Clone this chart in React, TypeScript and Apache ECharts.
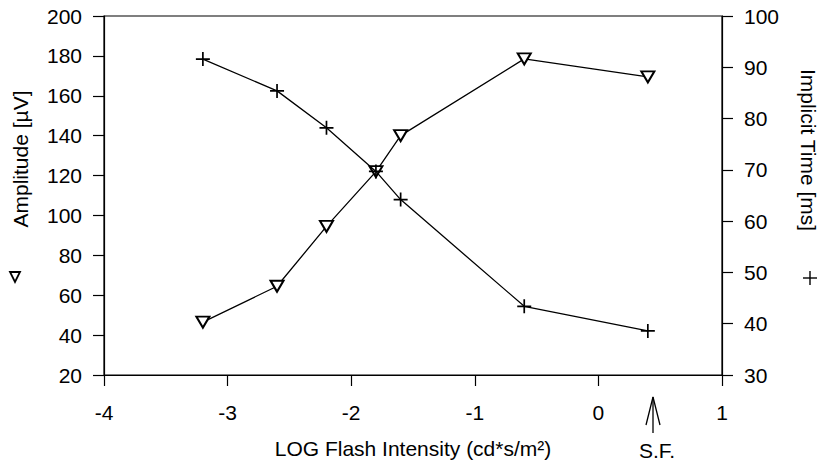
import React, { useEffect, useRef } from "react";
import * as echarts from "echarts";

const flashIntensity = [-3.2, -2.6, -2.2, -1.8, -1.6, -0.6, 0.4];
const amplitude = [46.5, 64.5, 94.5, 122, 140, 178.5, 169.5];
const implicitTime = [91.6, 85.4, 78.2, 69.7, 64.2, 43.4, 38.6];

const FONT = "'Liberation Sans', Arial, sans-serif";
const FS = 21;

export default function App() {
  const ref = useRef<HTMLDivElement>(null);
  useEffect(() => {
    if (!ref.current) return;
    const chart = echarts.init(ref.current, undefined, { renderer: "svg" });
    const axisCommon = {
      axisLine: { show: true, onZero: false, lineStyle: { color: "#000", width: 1.2 } },
      axisTick: { show: true, inside: false, length: 11, lineStyle: { color: "#000", width: 1.2 } },
      axisLabel: { color: "#000", fontSize: FS, fontFamily: FONT, margin: 22 },
      splitLine: { show: false },
    };
    chart.setOption({
      animation: false,
      backgroundColor: "#fff",
      grid: {
        left: 104,
        right: 97,
        top: 16,
        bottom: 88,
        show: true,
        borderColor: "#000",
        borderWidth: 1.2,
        backgroundColor: "transparent",
      },
      xAxis: {
        type: "value",
        min: -4,
        max: 1,
        interval: 1,
        ...axisCommon,
        axisLabel: { ...axisCommon.axisLabel, margin: 27 },
        name: "LOG Flash Intensity (cd*s/m²)",
        nameLocation: "middle",
        nameGap: 63,
        nameTextStyle: { color: "#000", fontSize: FS, fontFamily: FONT },
      },
      yAxis: [
        {
          type: "value",
          min: 20,
          max: 200,
          interval: 20,
          position: "left",
          ...axisCommon,
        },
        {
          type: "value",
          min: 30,
          max: 100,
          interval: 10,
          position: "right",
          ...axisCommon,
        },
      ],
      series: [
        {
          type: "line",
          yAxisIndex: 0,
          data: flashIntensity.map((x, i) => [x, amplitude[i]]),
          lineStyle: { color: "#000", width: 1.3 },
          symbol: "triangle",
          symbolRotate: 180,
          symbolSize: [13, 11],
          itemStyle: { color: "#fff", borderColor: "#000", borderWidth: 2 },
          z: 3,
        },
        {
          type: "line",
          yAxisIndex: 1,
          data: flashIntensity.map((x, i) => [x, implicitTime[i]]),
          lineStyle: { color: "#000", width: 1.3 },
          symbol: "path://M0,7H14M7,0V14",
          symbolSize: 14,
          symbolKeepAspect: true,
          itemStyle: { color: "none", borderColor: "#000", borderWidth: 1.7 },
          z: 4,
        },
      ],
      graphic: [
        {
          type: "text",
          x: 20,
          y: 159,
          rotation: Math.PI / 2,
          style: {
            text: "Amplitude [µV]",
            fontSize: FS,
            fontFamily: FONT,
            fill: "#000",
            align: "center",
            verticalAlign: "middle",
          },
        },
        {
          type: "polygon",
          shape: { points: [[10, 272], [20, 272], [15, 282]] },
          style: { fill: "none", stroke: "#000", lineWidth: 1.8 },
        },
        {
          type: "text",
          x: 808,
          y: 150,
          rotation: -Math.PI / 2,
          style: {
            text: "Implicit Time [ms]",
            fontSize: FS,
            fontFamily: FONT,
            fill: "#000",
            align: "center",
            verticalAlign: "middle",
          },
        },
        {
          type: "line",
          shape: { x1: 803, y1: 278, x2: 817, y2: 278 },
          style: { stroke: "#000", lineWidth: 1.4 },
        },
        {
          type: "line",
          shape: { x1: 810, y1: 271, x2: 810, y2: 285 },
          style: { stroke: "#000", lineWidth: 1.4 },
        },
        {
          type: "line",
          shape: { x1: 653, y1: 397, x2: 653, y2: 433 },
          style: { stroke: "#000", lineWidth: 1.3 },
        },
        {
          type: "polyline",
          shape: { points: [[646, 425], [653, 397], [660, 425]] },
          style: { stroke: "#000", lineWidth: 1.3, fill: "none" },
        },
        {
          type: "text",
          x: 657,
          y: 450,
          style: {
            text: "S.F.",
            fontSize: FS,
            fontFamily: FONT,
            fill: "#000",
            align: "center",
            verticalAlign: "middle",
          },
        },
      ],
    });
    return () => chart.dispose();
  }, []);
  return <div ref={ref} style={{ width: 819, height: 464, position: "fixed", left: 0, top: 0 }} />;
}
